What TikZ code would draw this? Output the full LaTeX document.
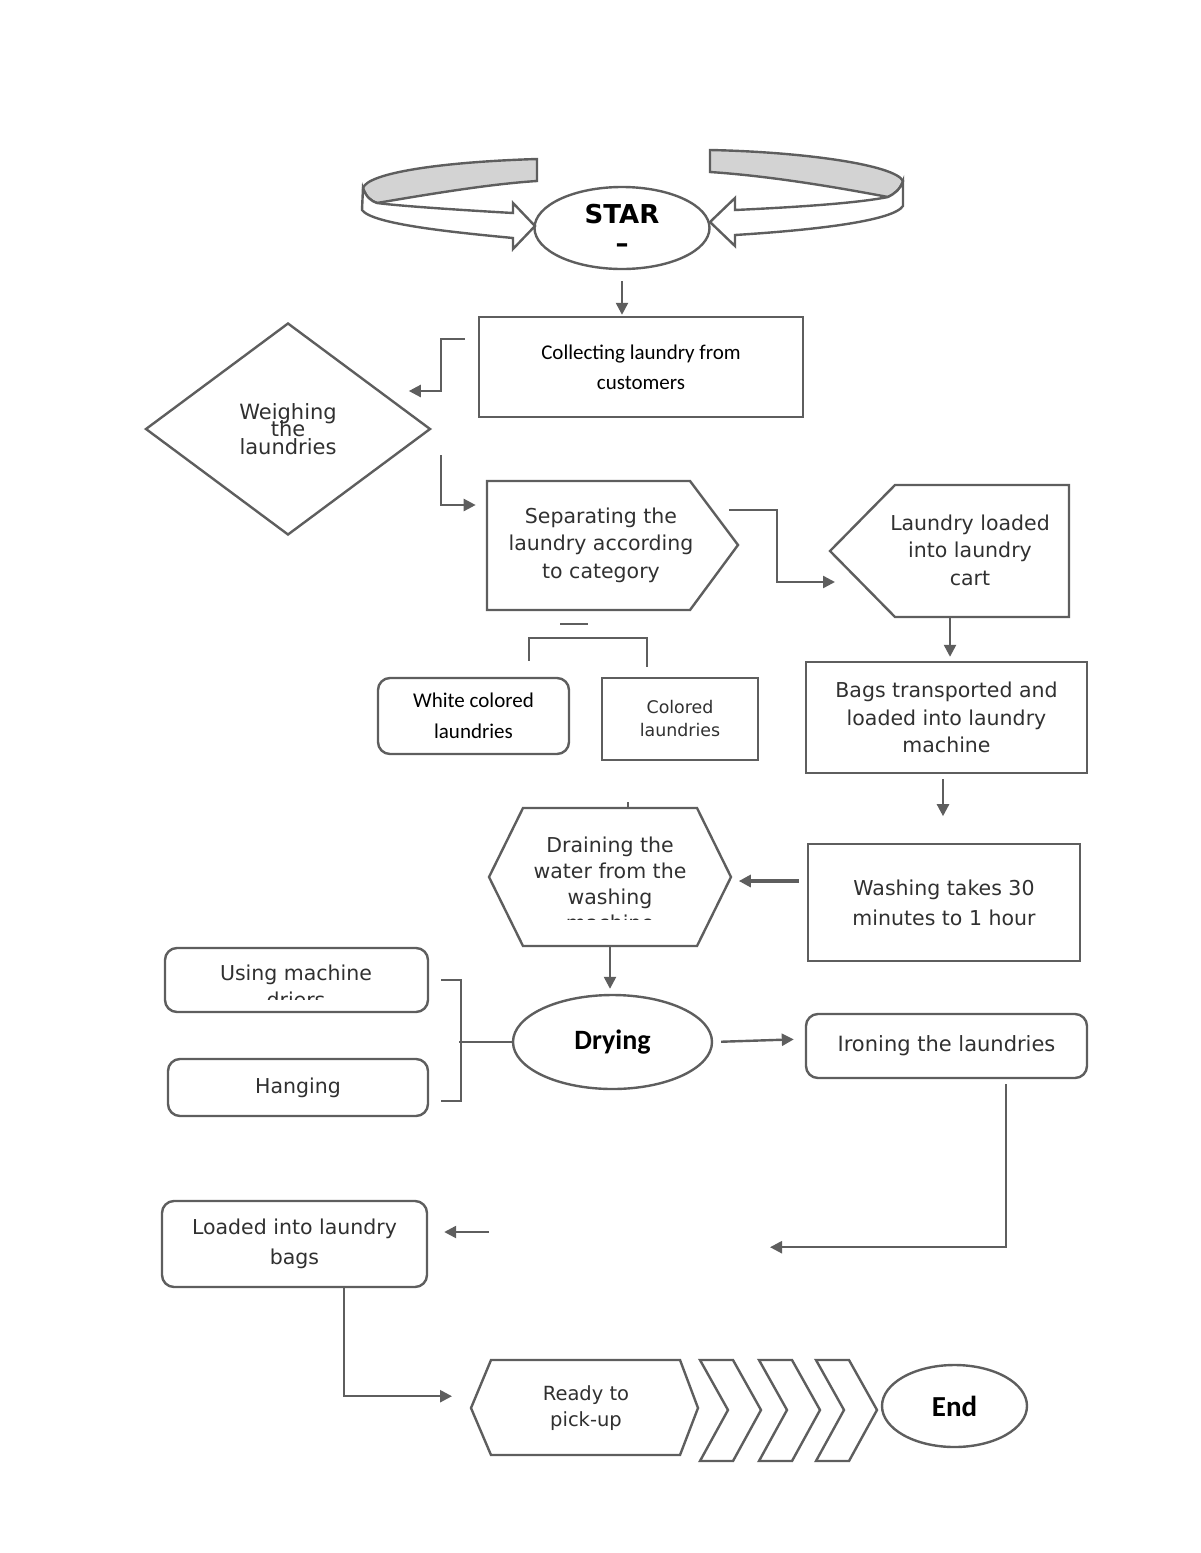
\documentclass[tikz,border=0pt]{standalone}
\usepackage{fontspec}
\setmainfont{DejaVu Sans}
\newfontfamily\carlito{Carlito}
\usetikzlibrary{shapes.geometric,arrows.meta}
\definecolor{linegray}{HTML}{5E5E5E}
\definecolor{bandgray}{HTML}{D3D3D3}
\definecolor{inkgray}{HTML}{303030}
\newcommand\tightlines{\lineskiplimit=-20pt\relax}
\tikzset{
  flow/.style={draw=linegray, line width=1.2pt},
  box/.style={flow, rectangle, inner sep=0pt, align=center, text=inkgray, font=\fontsize{10.25}{13.75}\selectfont},
  rbox/.style={box, rounded corners=6pt},
  oval/.style={flow, ellipse, inner sep=0pt, align=center},
  words/.style={align=center, inner sep=0pt, text=inkgray, font=\fontsize{10.25}{13.75}\selectfont},
  link/.style={linegray, line width=1.2pt, -{Triangle[length=6pt,width=6pt]}},
  wire/.style={linegray, line width=1.2pt},
}
\begin{document}
\begin{tikzpicture}[x=0.5pt,y=-0.5pt]
\useasboundingbox (0,0) rectangle (1200,1553);

% curved arrows round the start
\filldraw[flow, fill=bandgray] (537,159) .. controls (440,162) and (368,173) .. (363,188) .. controls (366,197) and (371,201) .. (377,203) .. controls (430,194) and (490,184) .. (537,181) -- cycle;
\filldraw[flow, fill=white] (363,188) -- (362,210) .. controls (372,224) and (450,232) .. (513,238) -- (513,249) -- (535,226) -- (513,203) -- (513,213) .. controls (460,210) and (400,206) .. (377,203) .. controls (371,201) and (366,197) .. (363,188) -- cycle;
\filldraw[flow, fill=bandgray] (710,150) .. controls (805,152) and (895,165) .. (903,181) .. controls (900,190) and (894,194) .. (888,197) .. controls (835,187) and (770,176) .. (710,172) -- cycle;
\filldraw[flow, fill=white] (903,181) -- (903,206) .. controls (893,221) and (815,230) .. (735,235) -- (735,246) -- (710,222) -- (735,198) -- (735,210) .. controls (800,207) and (858,203) .. (888,197) .. controls (894,194) and (900,190) .. (903,181) -- cycle;

\node[oval, minimum width=87.5pt, minimum height=41pt, font=\bfseries\fontsize{13}{14.5}\selectfont] (star) at (622,228) {STAR\\–};

% top part
\node[box, minimum width=162pt, minimum height=50pt, text=black, font=\carlito\fontsize{10.5}{15}\selectfont] (collect) at (641,367) {Collecting laundry from\\customers};
\node[flow, diamond, minimum width=142.5pt, minimum height=106pt, inner sep=0pt, align=center, text=inkgray, font={\fontsize{10.5}{8.75}\selectfont\tightlines}] (weigh) at (288,429) {Weighing\\the\\laundries};

\draw[flow] (487,481) -- (690,481) -- (738,545) coordinate (sepE) -- (690,610) -- (574,610) coordinate (sepS) -- (487,610) -- cycle;
\node[words] (sepT) at (601,545) {Separating the\\laundry according\\to category};

\draw[flow] (895,485) -- (1069,485) -- (1069,617) -- (950,617) coordinate (cartS) -- (895,617) -- (830,551) -- cycle;
\node[words] (cartT) at (970,550) {Laundry loaded\\into laundry\\cart};

\node[rbox, minimum width=95.5pt, minimum height=38pt, text=black, font=\carlito\fontsize{10.5}{15.5}\selectfont] (white) at (473.5,716) {White colored\\laundries};
\node[box, minimum width=78pt, minimum height=41pt, font=\fontsize{8.7}{11.5}\selectfont] (colored) at (680,719) {Colored\\laundries};

\node[box, minimum width=140.5pt, minimum height=55.5pt] (bags) at (946.5,717.5) {Bags transported and\\loaded into laundry\\machine};

% middle part
\node[box, minimum width=136pt, minimum height=58.5pt, font=\fontsize{10.25}{15}\selectfont] (wash) at (944,902.5) {Washing takes 30\\minutes to 1 hour};

\draw[flow] (489,877) -- (523,808) -- (697,808) -- (731,877) -- (697,946) -- (610,946) coordinate (drainS) -- (523,946) -- cycle;
\draw[wire, line width=0.6pt] (628,802) -- (628,808);
\begin{scope}
  \clip (489,808) rectangle (731,919);
  \node[words, font=\fontsize{10.25}{13}\selectfont] (drainT) at (610,884) {Draining the\\water from the\\washing\\machine};
\end{scope}

\node[oval, minimum width=99.5pt, minimum height=47pt, font=\carlito\bfseries\fontsize{14}{16}\selectfont] (dry) at (612.5,1042) {Drying};
\node[rbox, minimum width=140.5pt, minimum height=32pt, font=\fontsize{10.5}{13}\selectfont] (iron) at (946.5,1046) {Ironing the laundries};

\node[rbox, minimum width=131.5pt, minimum height=32pt] (using) at (296.5,980) {};
\begin{scope}
  \clip (165,948) rectangle (428,999);
  \node[words, font=\fontsize{10.25}{13.5}\selectfont] (usingT) at (296,986) {Using machine\\driers};
\end{scope}
\node[rbox, minimum width=130pt, minimum height=28.5pt] (hang) at (298,1087.5) {Hanging};

% bottom part
\node[rbox, minimum width=132.5pt, minimum height=43pt, font=\fontsize{10.25}{15}\selectfont] (loaded) at (294.5,1244) {Loaded into laundry\\bags};

\draw[flow] (471,1408) -- (491,1360) -- (680,1360) -- (698,1408) -- (680,1455) -- (491,1455) -- cycle;
\node[words, font=\fontsize{9.75}{13}\selectfont] (readyT) at (586,1408) {Ready to\\pick-up};
\foreach \cx in {700,759,816}
  \draw[flow] (\cx,1360) -- ++(33,0) -- ++(28,50) -- ++(-28,51) -- ++(-33,0) -- ++(28,-51) -- cycle;
\node[oval, minimum width=72.5pt, minimum height=41pt, font=\carlito\bfseries\fontsize{14.5}{16}\selectfont] (finish) at (954.5,1406) {End};

% connectors
\draw[link, shorten <=5.5pt, shorten >=0.5pt] (star.south) -- (star.south |- collect.north);
\draw[link] ([xshift=-6.5pt,yshift=14pt]collect.west) -- ++(-24,0) -- ++(0,52) -- ++(-32,0);
\draw[link] ([xshift=4.5pt,yshift=-13pt]weigh.east) -- ++(0,50) -- ++(35,0);
\draw[link] ([shift={(-9,-35)}]sepE) -- ++(48,0) -- ++(0,72) -- ++(58,0);
\draw[wire] ([shift={(-14,14)}]sepS) -- ++(28,0);
\draw[wire] ([shift={(55.5,-16)}]white.north) -- ++(0,-23) -- ++(118,0) -- ++(0,29);
\draw[link, shorten >=2pt] (cartS) -- (cartS |- bags.north);
\draw[link, shorten <=2.5pt] ([xshift=-1.75pt]bags.south) -- ++(0,42);
\draw[link, line width=2pt] ([shift={(-8,-21.5)}]wash.west) -- ++(-60,0);
\draw[link, shorten >=2.5pt] (drainS) -- (drainS |- dry.north);
\draw[link, shorten <=4pt, shorten >=5.5pt] (dry.east) -- ([yshift=3.5pt]iron.west);
\draw[wire] ([xshift=6pt]using.east) -- ++(20,0) -- ++(0,121) -- ++(-20,0);
\draw[wire] (dry.west) -- ++(-53,0);
\draw[link] ([shift={(59.5,5)}]iron.south) -- ++(0,163) -- ++(-236,0);
\draw[link] ([shift={(61,-12)}]loaded.east) -- ++(-45,0);
\draw[link] ([xshift=24.75pt]loaded.south) -- ++(0,108) -- ++(108,0);
\end{tikzpicture}
\end{document}
